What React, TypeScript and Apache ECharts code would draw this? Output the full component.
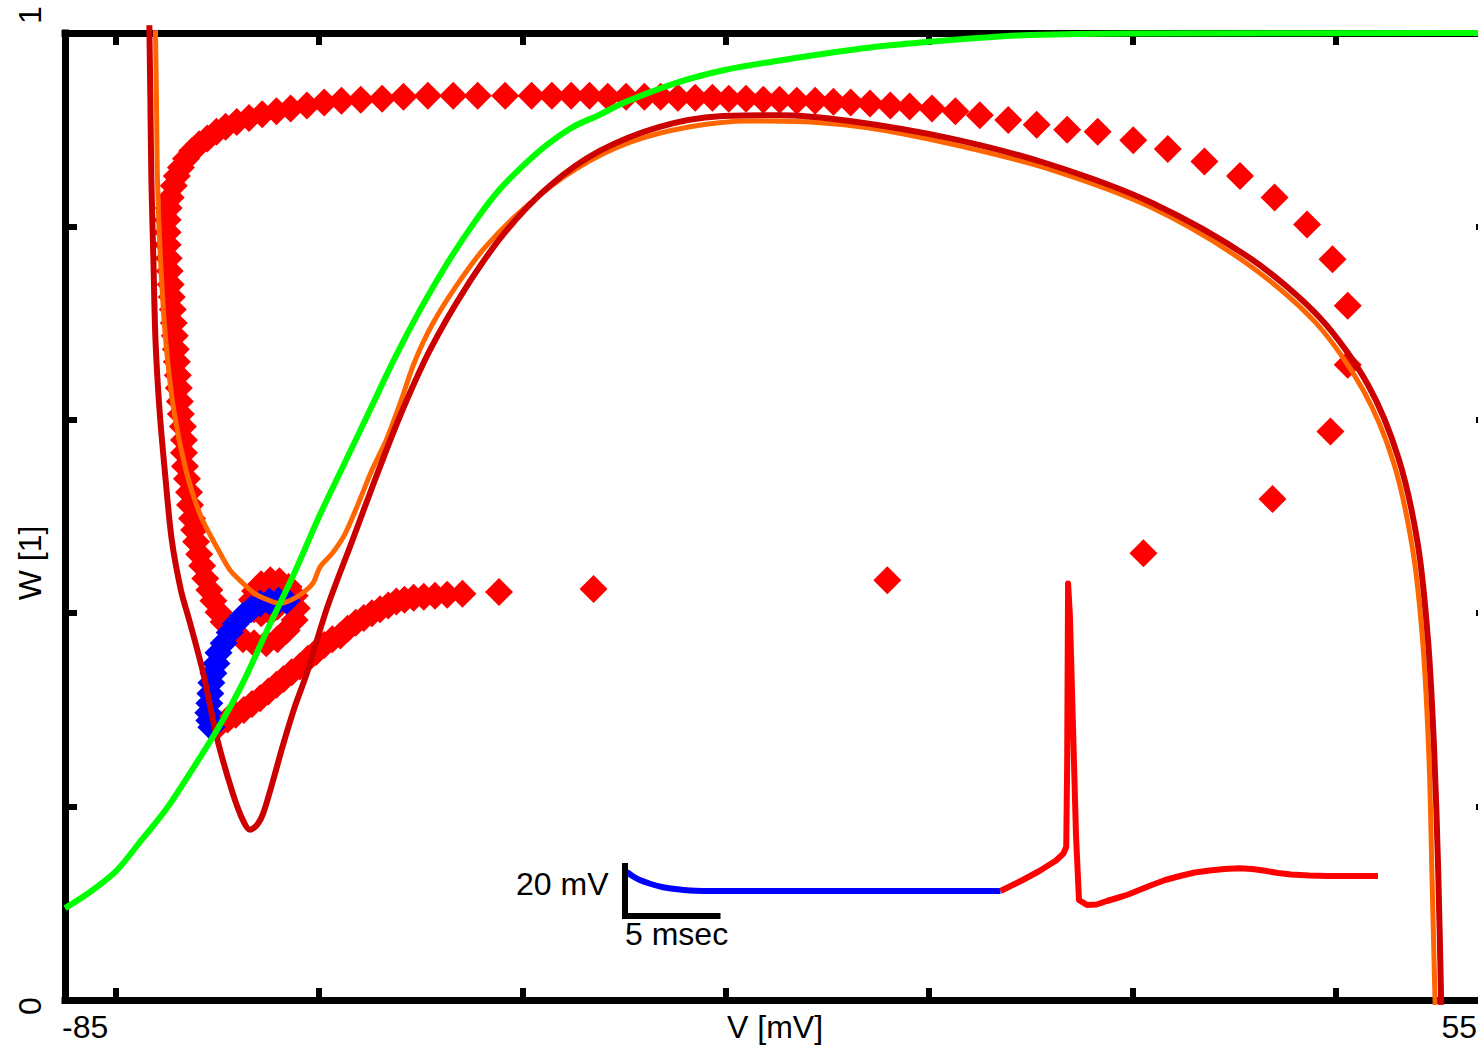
import React, { useEffect, useRef } from 'react';
import * as echarts from 'echarts';

// ---------- axis texts ----------
const xTickValues = [-80, -60, -40, -20, 0, 20, 40];
const yTickValues = [0.2, 0.4, 0.6, 0.8];
const xMinLabel = '-85';
const xMaxLabel = '55';
const yMinLabel = '0';
const yMaxLabel = '1';
const xAxisTitle = 'V [mV]';
const yAxisTitle = 'W [1]';

// ---------- main phase plane (V [mV], W) ----------
const wInfCurve = [
  [-85, 0.095], [-82.5, 0.112], [-80, 0.133], [-77.5, 0.165], [-75, 0.198], [-72.5, 0.238],
  [-70, 0.28], [-67.5, 0.328], [-65, 0.385], [-62.5, 0.44], [-60, 0.5], [-57.5, 0.555],
  [-55, 0.61], [-52.5, 0.665], [-50, 0.715], [-47.5, 0.76], [-45, 0.8], [-42.5, 0.835],
  [-40, 0.862], [-37.5, 0.885], [-35, 0.903], [-32.5, 0.915], [-30, 0.928], [-25, 0.948],
  [-20, 0.962], [-15, 0.971], [-10, 0.979], [-5, 0.986], [0, 0.991], [5, 0.995],
  [10, 0.998], [20, 0.9995], [55, 1.0],
];

const darkRedTrajectory = [
  [-76.7, 1.008], [-76.6, 0.931], [-76.5, 0.848], [-76.3, 0.765], [-76.1, 0.683], [-75.7, 0.61],
  [-75.1, 0.538], [-74.5, 0.476], [-73.6, 0.424], [-72.7, 0.39], [-71.4, 0.338], [-70.0, 0.269],
  [-68.5, 0.214], [-67.5, 0.186], [-66.8, 0.176], [-66.1, 0.181], [-65.5, 0.193], [-64.5, 0.228],
  [-63.6, 0.262], [-62.4, 0.303], [-61.2, 0.338], [-59.2, 0.406], [-56.7, 0.476], [-54.5, 0.538],
  [-52.0, 0.605], [-49.1, 0.672], [-45.6, 0.736], [-41.7, 0.794], [-37.3, 0.842], [-32.4, 0.878],
  [-26.5, 0.903], [-20.6, 0.914], [-14.7, 0.915], [-7.8, 0.909], [2.1, 0.891], [11.9, 0.864],
  [21.8, 0.825], [31.6, 0.767], [38.5, 0.705], [43.2, 0.636], [46.2, 0.56], [48.1, 0.471],
  [49.1, 0.372], [49.7, 0.259], [50.1, 0.134], [50.4, -0.005],
];

const orangeTrajectory = [
  [-76.1, 1.003], [-76.0, 0.931], [-75.9, 0.848], [-75.6, 0.765], [-75.1, 0.683], [-74.3, 0.61],
  [-73.1, 0.548], [-71.7, 0.502], [-70.0, 0.467], [-68.8, 0.445], [-67.8, 0.434], [-66.3, 0.42],
  [-65.1, 0.414], [-63.9, 0.41], [-62.7, 0.414], [-61.6, 0.421], [-60.6, 0.431], [-59.9, 0.448],
  [-58.7, 0.462], [-57.5, 0.481], [-56.2, 0.512], [-54.8, 0.548], [-53.4, 0.579], [-52.0, 0.618],
  [-50.6, 0.66], [-48.9, 0.698], [-46.6, 0.737], [-43.7, 0.778], [-39.7, 0.82], [-34.8, 0.859],
  [-29.4, 0.887], [-23.5, 0.903], [-17.6, 0.909], [-11.7, 0.908], [-4.8, 0.9], [3.1, 0.883],
  [11.9, 0.859], [21.8, 0.82], [31.1, 0.763], [38.0, 0.701], [42.7, 0.631], [45.7, 0.556],
  [47.6, 0.465], [48.6, 0.367], [49.2, 0.248], [49.5, 0.124], [49.8, -0.005],
];

const redDiamonds = [
  // ramp along the lower branch
  [-70.5, 0.282], [-69.8, 0.285], [-69.0, 0.29], [-68.2, 0.295], [-67.4, 0.3], [-66.6, 0.306],
  [-65.8, 0.312], [-65.0, 0.319], [-64.2, 0.326], [-63.5, 0.332], [-62.7, 0.339], [-61.9, 0.345],
  [-61.1, 0.353], [-60.3, 0.36], [-59.5, 0.367], [-58.7, 0.373], [-57.9, 0.377], [-57.2, 0.384],
  [-56.4, 0.39], [-55.6, 0.395], [-54.8, 0.4], [-54.0, 0.404], [-53.2, 0.408], [-52.4, 0.412],
  [-51.6, 0.414], [-50.7, 0.416], [-49.7, 0.417], [-48.6, 0.418], [-47.4, 0.419], [-45.9, 0.42],
  [-42.3, 0.422], [-33.0, 0.425], [-4.1, 0.434], [21.1, 0.462], [33.8, 0.518], [39.5, 0.588],
  [41.2, 0.657], [41.2, 0.718], [39.7, 0.766], [37.2, 0.802], [34.0, 0.83], [30.6, 0.852],
  [27.1, 0.867], [23.5, 0.88], [20.1, 0.889], [16.6, 0.898], [13.6, 0.9], [10.6, 0.905],
  // top branch, going left
  [7.8, 0.91], [5.0, 0.915], [2.6, 0.919], [0.3, 0.922], [-1.9, 0.924], [-3.8, 0.925],
  [-5.8, 0.927], [-7.7, 0.928], [-9.4, 0.929], [-11.2, 0.93], [-13.0, 0.93], [-14.7, 0.931],
  [-16.3, 0.931], [-18.0, 0.932], [-19.7, 0.932], [-21.3, 0.933], [-23.0, 0.933], [-24.7, 0.933],
  [-26.4, 0.934], [-28.0, 0.934], [-29.8, 0.934], [-31.6, 0.934], [-33.4, 0.935], [-35.2, 0.935],
  [-37.1, 0.935], [-39.1, 0.935], [-41.7, 0.935], [-44.4, 0.935], [-46.8, 0.935], [-49.3, 0.935],
  [-51.7, 0.934], [-53.8, 0.932], [-55.9, 0.931], [-57.8, 0.93], [-59.5, 0.928], [-61.2, 0.925],
  [-62.8, 0.922], [-64.2, 0.919], [-65.6, 0.916], [-66.9, 0.912], [-68.1, 0.908], [-69.2, 0.903],
  [-70.1, 0.898], [-71.0, 0.891], [-71.8, 0.885], [-72.5, 0.878], [-73.1, 0.87], [-73.6, 0.861],
  [-74.0, 0.852], [-74.3, 0.842], [-74.6, 0.83], [-74.8, 0.819], [-74.9, 0.807], [-74.9, 0.794],
  // descending left branch
  [-74.9, 0.781], [-74.8, 0.767], [-74.7, 0.754], [-74.6, 0.74], [-74.5, 0.727], [-74.4, 0.714],
  [-74.3, 0.7], [-74.2, 0.687], [-74.1, 0.673], [-74.0, 0.66], [-73.9, 0.646], [-73.8, 0.633],
  [-73.7, 0.619], [-73.6, 0.606], [-73.4, 0.593], [-73.3, 0.579], [-73.3, 0.566], [-73.2, 0.552],
  [-73.0, 0.539], [-72.8, 0.525], [-72.7, 0.512], [-72.5, 0.498], [-72.3, 0.486], [-72.1, 0.474],
  [-71.8, 0.461], [-71.5, 0.449], [-71.2, 0.436], [-70.8, 0.424], [-70.4, 0.413], [-69.9, 0.401],
  [-69.4, 0.391], [-68.5, 0.381], [-67.5, 0.373], [-66.4, 0.369], [-65.2, 0.369], [-64.1, 0.373],
  [-63.2, 0.382], [-62.4, 0.393], [-62.2, 0.405], [-62.4, 0.418], [-63.0, 0.427], [-63.9, 0.433],
  [-64.8, 0.434], [-65.7, 0.43], [-66.3, 0.423], [-66.6, 0.414], [-66.4, 0.404], [-65.7, 0.4],
  [-64.8, 0.401], [-64.1, 0.407], [-64.0, 0.416], [-64.6, 0.42], [-65.2, 0.417], [-65.3, 0.41],
  [-64.8, 0.408],
];

const blueDiamonds = [
  [-63.2, 0.413], [-64.0, 0.413], [-64.9, 0.412], [-65.8, 0.41], [-66.7, 0.404], [-67.5, 0.397],
  [-68.2, 0.389], [-68.8, 0.38], [-69.4, 0.369], [-69.9, 0.359], [-70.1, 0.348], [-70.4, 0.338],
  [-70.6, 0.328], [-70.7, 0.317], [-70.8, 0.307], [-70.9, 0.297], [-70.8, 0.289], [-70.6, 0.282],
];

// ---------- inset voltage trace (t [ms], V [mV]) ----------
const insetBlueTrace = [
  [0.1, -62.4], [0.4, -64.0], [0.8, -65.6], [1.4, -67.2], [2.0, -68.4], [2.7, -69.2],
  [3.5, -69.8], [5.1, -70.0], [20.3, -70.0],
];
const insetRedTrace = [
  [20.3, -70.0], [21.5, -65.6], [22.4, -62.0], [23.3, -57.8], [23.7, -55.0], [23.85, -52.4],
  [23.9, -20], [23.95, 53], [24.05, 40], [24.2, 0], [24.38, -48], [24.54, -73.6],
  [24.97, -75.6], [25.5, -75.4], [26.05, -74.0], [26.6, -72.8], [27.2, -71.4], [27.8, -69.6],
  [28.4, -67.8], [29.2, -65.6], [30.0, -64.0], [30.8, -62.6], [31.6, -61.8], [32.4, -61.2],
  [33.2, -60.9], [33.9, -61.2], [34.6, -61.9], [35.3, -62.8], [36.0, -63.4], [37.0, -63.8],
  [38.0, -64.0], [40.7, -64.0],
];
const scaleBar = [[0, -60], [0, -80], [5, -80]];
const scaleBarLabels = ['20 mV', '5 msec'];

const FONT = '"Liberation Sans", Arial, Helvetica, sans-serif';

function frameAxis(extra: any) {
  return {
    type: 'value',
    axisLine: { show: true, onZero: false, lineStyle: { color: '#000', width: 7, cap: 'square' } },
    axisLabel: { show: false },
    splitLine: { show: false },
    ...extra,
  };
}

export default function App() {
  const ref = useRef<HTMLDivElement>(null);

  useEffect(() => {
    if (!ref.current) return;
    const chart = echarts.init(ref.current, undefined, { renderer: 'svg' });

    const xTicks = { show: true, inside: true, length: 12, lineStyle: { color: '#000', width: 6 }, customValues: xTickValues };
    const yTicks = { show: true, inside: true, length: 12, lineStyle: { color: '#000', width: 6 }, customValues: yTickValues };

    const option: any = {
      animation: false,
      grid: [
        { left: 65, top: 33, width: 1423, height: 967, outerBoundsMode: 'none', containLabel: false },
        { left: 625, top: 578.5, width: 777, height: 337.5, outerBoundsMode: 'none', containLabel: false },
      ],
      xAxis: [
        frameAxis({ gridIndex: 0, min: -85, max: 55, position: 'bottom', axisTick: xTicks }),
        frameAxis({ gridIndex: 0, min: -85, max: 55, position: 'top', axisTick: xTicks }),
        { type: 'value', gridIndex: 1, min: 0, max: 42, show: false },
      ],
      yAxis: [
        frameAxis({ gridIndex: 0, min: 0, max: 1, position: 'left', axisTick: yTicks }),
        frameAxis({ gridIndex: 0, min: 0, max: 1, position: 'right', axisTick: yTicks }),
        { type: 'value', gridIndex: 1, min: -80, max: 55, show: false },
      ],
      series: [
        {
          type: 'scatter', xAxisIndex: 0, yAxisIndex: 0, data: redDiamonds, symbol: 'diamond',
          symbolSize: 28, itemStyle: { color: '#ff0000', opacity: 1 }, z: 2, silent: true,
        },
        {
          type: 'scatter', xAxisIndex: 0, yAxisIndex: 0, data: blueDiamonds, symbol: 'diamond',
          symbolSize: 28, itemStyle: { color: '#0000ff', opacity: 1 }, z: 3, silent: true,
        },
        {
          type: 'line', xAxisIndex: 0, yAxisIndex: 0, data: orangeTrajectory, symbol: 'none', clip: false,
          smooth: 0.3, lineStyle: { color: '#ff6600', width: 5, join: 'round' }, z: 4, silent: true,
        },
        {
          type: 'line', xAxisIndex: 0, yAxisIndex: 0, data: darkRedTrajectory, symbol: 'none', clip: false,
          smooth: 0.3, lineStyle: { color: '#cc0000', width: 6, join: 'round' }, z: 5, silent: true,
        },
        {
          type: 'line', xAxisIndex: 0, yAxisIndex: 0, data: wInfCurve, symbol: 'none', clip: false,
          smooth: 0.3, lineStyle: { color: '#00ff00', width: 6, join: 'round' }, z: 6, silent: true,
        },
        {
          type: 'line', xAxisIndex: 2, yAxisIndex: 2, data: insetBlueTrace, symbol: 'none', clip: false,
          smooth: 0.3, lineStyle: { color: '#0000ff', width: 6, join: 'round' }, z: 7, silent: true,
        },
        {
          type: 'line', xAxisIndex: 2, yAxisIndex: 2, data: insetRedTrace, symbol: 'none', clip: false,
          lineStyle: { color: '#ff0000', width: 6, join: 'round' }, z: 7, silent: true,
        },
        {
          type: 'line', xAxisIndex: 2, yAxisIndex: 2, data: scaleBar, symbol: 'none', clip: false,
          lineStyle: { color: '#000', width: 6, cap: 'square', join: 'miter' }, z: 8, silent: true,
        },
        {
          type: 'scatter', xAxisIndex: 2, yAxisIndex: 2, symbol: 'circle', symbolSize: 1, silent: true, z: 8,
          itemStyle: { color: 'rgba(0,0,0,0)' },
          data: [
            { value: [0, -67.2], name: scaleBarLabels[0], label: { position: 'left', distance: 16 } },
            { value: [0, -80], name: scaleBarLabels[1], label: { position: 'bottom', align: 'left', distance: 1 } },
          ],
          label: {
            show: true, formatter: (p: any) => p.name, color: '#000', opacity: 1, fontSize: 32, fontFamily: FONT,
          },
        },
      ],
      graphic: [
        { type: 'text', x: 62, y: 1027, style: { text: xMinLabel, font: `32px ${FONT}`, fill: '#000', align: 'left', verticalAlign: 'middle' } },
        { type: 'text', x: 775, y: 1027, style: { text: xAxisTitle, font: `32px ${FONT}`, fill: '#000', align: 'center', verticalAlign: 'middle' } },
        { type: 'text', x: 1477, y: 1027, style: { text: xMaxLabel, font: `32px ${FONT}`, fill: '#000', align: 'right', verticalAlign: 'middle' } },
        { type: 'text', x: 30, y: 1006, rotation: Math.PI / 2, style: { text: yMinLabel, font: `32px ${FONT}`, fill: '#000', align: 'center', verticalAlign: 'middle' } },
        { type: 'text', x: 30, y: 15, rotation: Math.PI / 2, style: { text: yMaxLabel, font: `32px ${FONT}`, fill: '#000', align: 'center', verticalAlign: 'middle' } },
        { type: 'text', x: 30, y: 563, rotation: Math.PI / 2, style: { text: yAxisTitle, font: `32px ${FONT}`, fill: '#000', align: 'center', verticalAlign: 'middle' } },
      ],
    };

    chart.setOption(option);
    return () => chart.dispose();
  }, []);

  return (
    <div
      ref={ref}
      style={{ position: 'fixed', left: 0, top: 0, width: 1478, height: 1046, background: '#fff' }}
    />
  );
}
